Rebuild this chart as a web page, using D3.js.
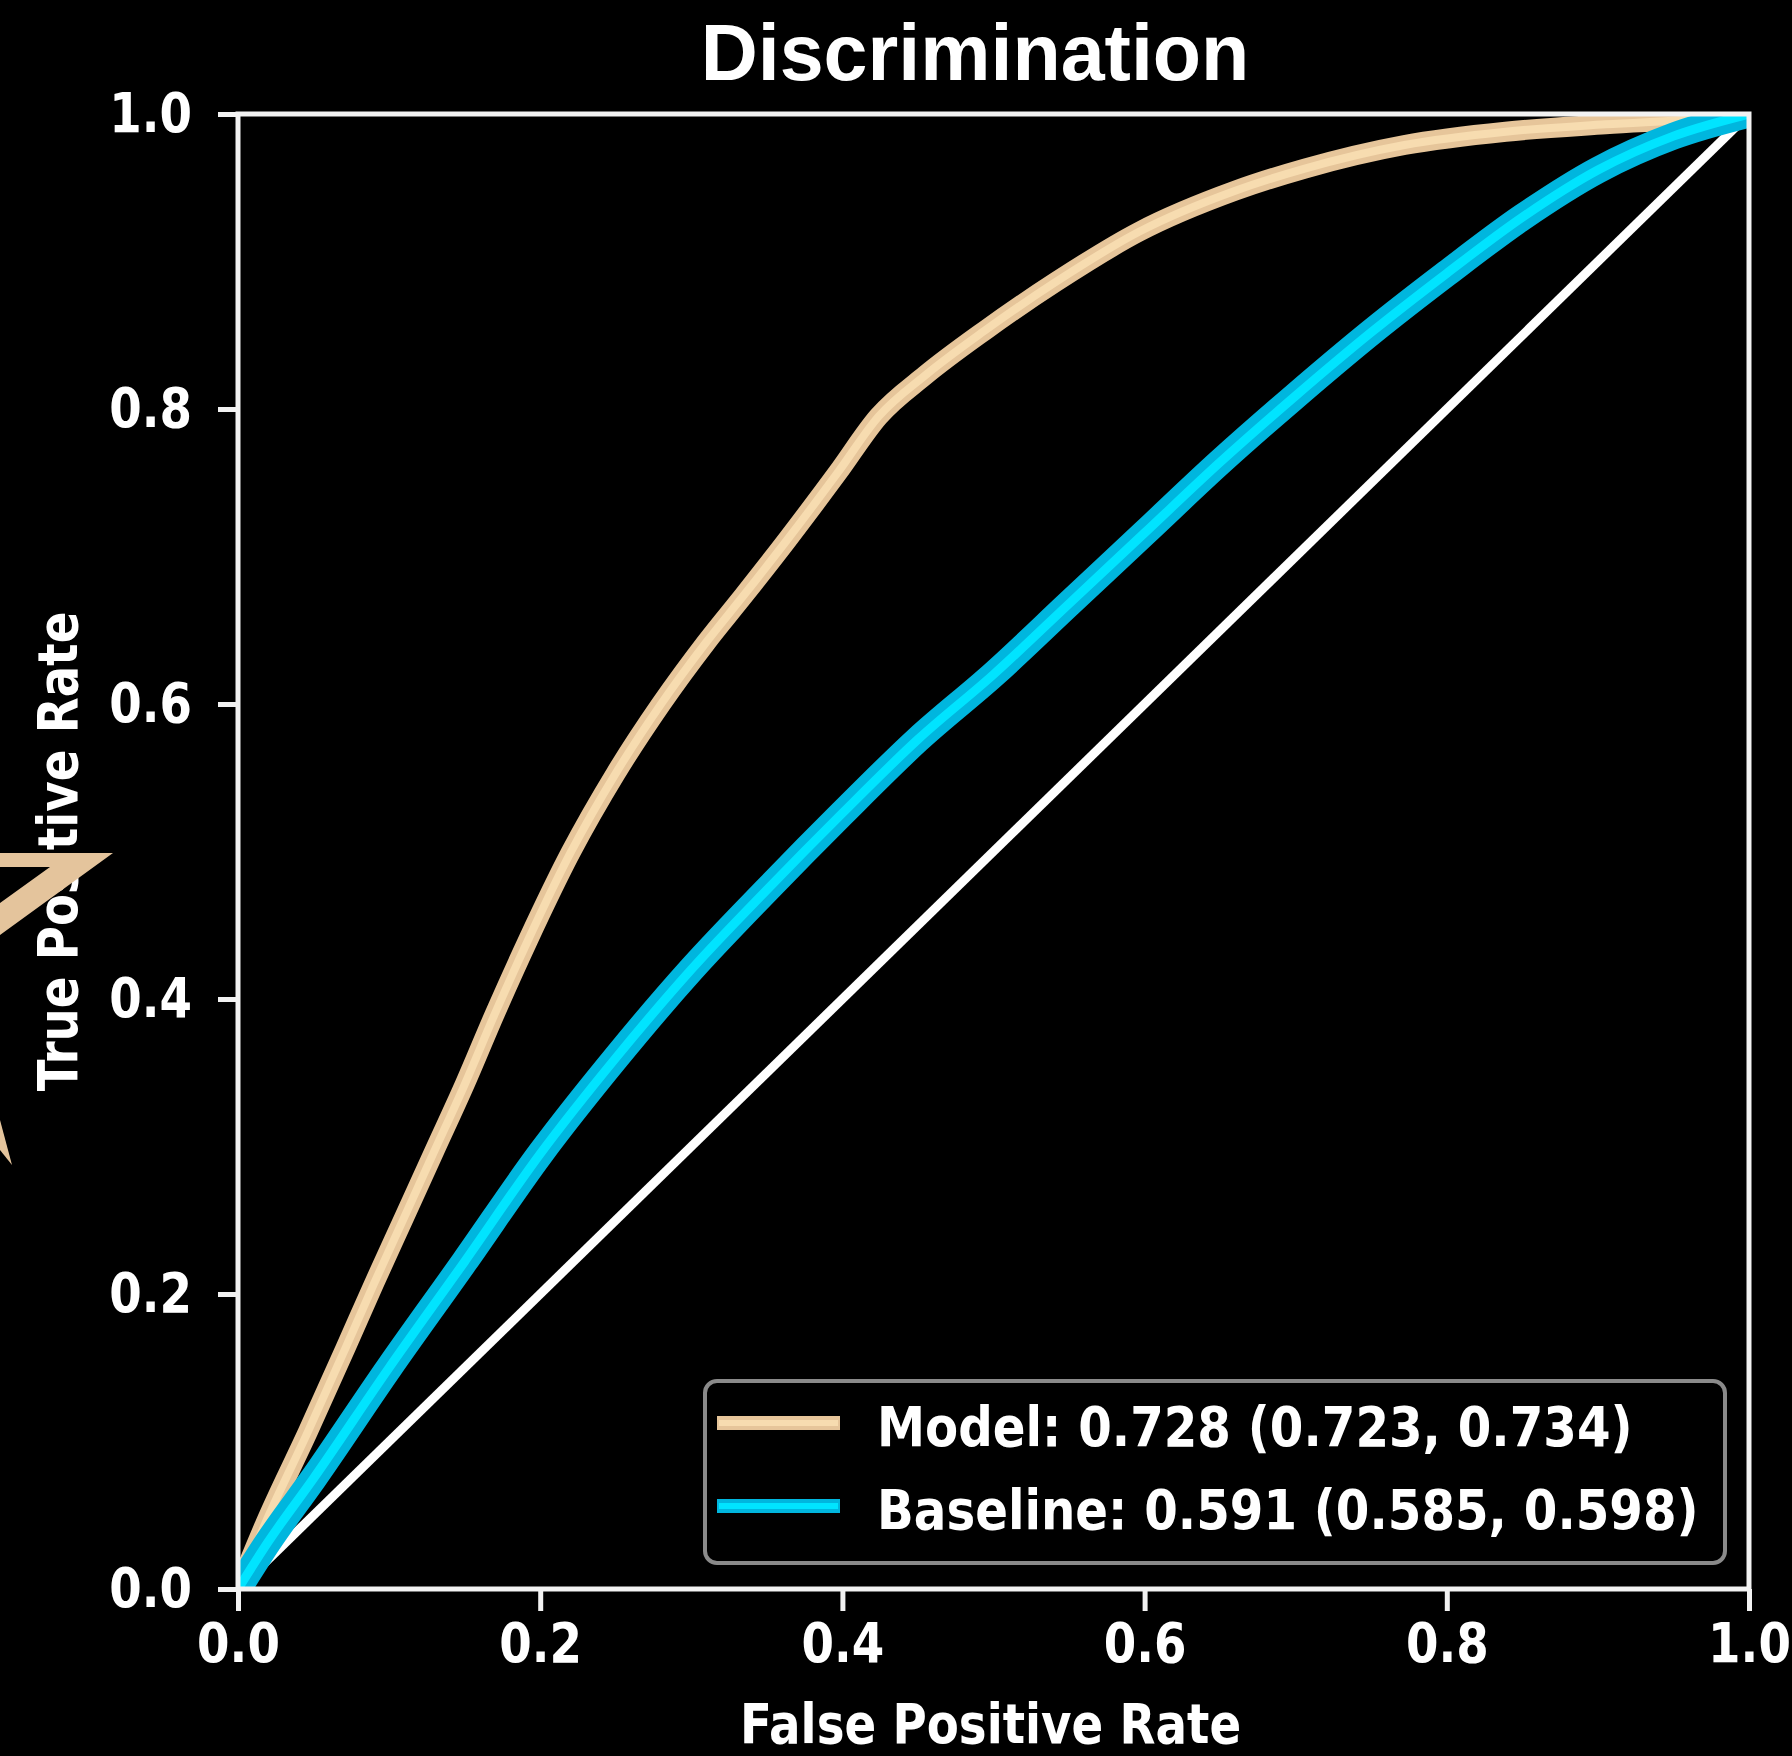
<!DOCTYPE html>
<html>
<head>
<meta charset="utf-8">
<script src="https://cdn.jsdelivr.net/npm/d3@7"></script>
<style>
  body { margin: 0; background: #000; }
  svg { display: block; }
</style>
</head>
<body>
<script>
// ---- DATA ----
var modelFpr = [0, 0.020, 0.046, 0.071, 0.090, 0.110, 0.130, 0.150, 0.170, 0.192, 0.220, 0.250, 0.280, 0.310, 0.335, 0.364, 0.397, 0.424, 0.455, 0.494, 0.541, 0.596, 0.660, 0.706, 0.772, 0.839, 0.905, 0.971, 1.0];
var modelTpr = [0, 0.049, 0.106, 0.163, 0.207, 0.252, 0.297, 0.342, 0.390, 0.440, 0.499, 0.553, 0.600, 0.642, 0.674, 0.712, 0.757, 0.795, 0.823, 0.853, 0.886, 0.920, 0.948, 0.963, 0.979, 0.988, 0.993, 0.997, 1.0];
var baseFpr = [0, 0.020, 0.050, 0.100, 0.150, 0.200, 0.250, 0.300, 0.350, 0.400, 0.450, 0.500, 0.550, 0.600, 0.650, 0.700, 0.750, 0.800, 0.850, 0.900, 0.950, 1.0];
var baseTpr = [0, 0.032, 0.075, 0.150, 0.222, 0.295, 0.360, 0.420, 0.474, 0.526, 0.576, 0.620, 0.668, 0.716, 0.764, 0.809, 0.852, 0.892, 0.930, 0.962, 0.985, 1.0];
var chanceLine = [0, 1];
var xTicks = [0, 0.2, 0.4, 0.6, 0.8, 1.0];
var yTicks = [0, 0.2, 0.4, 0.6, 0.8, 1.0];
var legendLabels = ["Model: 0.728 (0.723, 0.734)", "Baseline: 0.591 (0.585, 0.598)"];
var titleText = "Discrimination";
var xLabel = "False Positive Rate";
var yLabel = "True Positive Rate";

//SETTING UP THE CANVAS
var W = 1792, H = 1756;
var margin = {left: 238, top: 114, right: 43, bottom: 167};
var pw = W - margin.left - margin.right;
var ph = H - margin.top - margin.bottom;
var mplFont = "'DejaVu Sans', sans-serif";
var fs = 55;          // matplotlib text size
var squeeze = 0.85;   // the picture's text is a bit narrow

var peach = "#e6c59a", peachLight = "#f7dcb0";
var cyan = "#00b6de", cyanLight = "#00e4ff";

var svg = d3.select("body").append("svg")
  .attr("width", W)
  .attr("height", H)
  .style("background-color", "black");

var x = d3.scaleLinear().domain([0, 1]).range([margin.left, margin.left + pw]);
var y = d3.scaleLinear().domain([0, 1]).range([margin.top + ph, margin.top]);

function squish(k) {
  return function(sel) {
    sel.each(function() {
      var n = this.getComputedTextLength();
      d3.select(this).attr("textLength", n * k).attr("lengthAdjust", "spacingAndGlyphs");
    });
  };
}

//TITLE
svg.append("text")
  .attr("x", 975)
  .attr("y", 80)
  .attr("text-anchor", "middle")
  .attr("fill", "white")
  .style("font-family", "Helvetica, Arial, 'Liberation Sans', sans-serif")
  .style("font-weight", "bold")
  .style("font-size", "79px")
  .text(titleText);

//CURVES
svg.append("clipPath").attr("id", "plotclip")
  .append("rect")
  .attr("x", margin.left).attr("y", margin.top)
  .attr("width", pw).attr("height", ph);

var plot = svg.append("g").attr("clip-path", "url(#plotclip)");

var line = d3.line()
  .x(function(d) { return x(d[0]); })
  .y(function(d) { return y(d[1]); })
  .curve(d3.curveMonotoneX);

var chance = chanceLine.map(function(v) { return [v, v]; });
var model = modelFpr.map(function(f, i) { return [f, modelTpr[i]]; });
var base = baseFpr.map(function(f, i) { return [f, baseTpr[i]]; });

plot.append("path").datum(chance)
  .attr("d", line).attr("fill", "none")
  .attr("stroke", "white").attr("stroke-width", 9);

plot.append("path").datum(model)
  .attr("d", line).attr("fill", "none")
  .attr("stroke", peach).attr("stroke-width", 20).attr("stroke-linejoin", "round");
plot.append("path").datum(model)
  .attr("d", line).attr("fill", "none")
  .attr("stroke", peachLight).attr("stroke-width", 8).attr("stroke-linejoin", "round");

plot.append("path").datum(base)
  .attr("d", line).attr("fill", "none")
  .attr("stroke", cyan).attr("stroke-width", 27).attr("stroke-linejoin", "round");
plot.append("path").datum(base)
  .attr("d", line).attr("fill", "none")
  .attr("stroke", cyanLight).attr("stroke-width", 9).attr("stroke-linejoin", "round");

//AXES
var xAxis = d3.axisBottom(x).tickValues(xTicks).tickFormat(d3.format(".1f"))
  .tickSize(22).tickPadding(12);
var yAxis = d3.axisLeft(y).tickValues(yTicks).tickFormat(d3.format(".1f"))
  .tickSize(20).tickPadding(26);

var gx = svg.append("g").attr("transform", "translate(0," + (margin.top + ph) + ")").call(xAxis);
var gy = svg.append("g").attr("transform", "translate(" + margin.left + ",0)").call(yAxis);

[gx, gy].forEach(function(g) {
  g.select(".domain").remove();
  g.selectAll(".tick line").attr("stroke", "#f2f2f2").attr("stroke-width", 5);
  g.selectAll(".tick text")
    .attr("fill", "white")
    .style("font-family", mplFont)
    .style("font-weight", "bold")
    .style("font-size", fs + "px")
    .call(squish(squeeze));
});

//FRAME
svg.append("rect")
  .attr("x", margin.left).attr("y", margin.top)
  .attr("width", pw).attr("height", ph)
  .attr("fill", "none")
  .attr("stroke", "#f2f2f2")
  .attr("stroke-width", 5);

//AXIS LABELS
svg.append("text")
  .attr("x", margin.left + pw / 2 - 3)
  .attr("y", 1743)
  .attr("text-anchor", "middle")
  .attr("fill", "white")
  .style("font-family", mplFont).style("font-weight", "bold").style("font-size", fs + "px")
  .text(xLabel)
  .call(squish(squeeze));

svg.append("text")
  .attr("transform", "translate(77," + (margin.top + ph / 2) + ") rotate(-90)")
  .attr("text-anchor", "middle")
  .attr("fill", "white")
  .style("font-family", mplFont).style("font-weight", "bold").style("font-size", fs + "px")
  .text(yLabel)
  .call(squish(squeeze));

//LEGEND
var legW = 1020, legH = 182;
var legX = margin.left + pw - 24 - legW;
var legY = margin.top + ph - 26 - legH;
var leg = svg.append("g").attr("transform", "translate(" + legX + "," + legY + ")");
leg.append("rect")
  .attr("width", legW).attr("height", legH)
  .attr("rx", 12)
  .attr("fill", "black")
  .attr("stroke", "#8a8a8a")
  .attr("stroke-width", 4);

var legColors = [[peach, peachLight], [cyan, cyanLight]];
var row = leg.selectAll(".row")
  .data(legendLabels)
  .join("g")
  .attr("transform", function(d, i) { return "translate(0," + (42 + i * 83) + ")"; });

row.append("line")
  .attr("x1", 12).attr("x2", 135)
  .attr("stroke", function(d, i) { return legColors[i][0]; })
  .attr("stroke-width", 14);
row.append("line")
  .attr("x1", 14).attr("x2", 133)
  .attr("stroke", function(d, i) { return legColors[i][1]; })
  .attr("stroke-width", 6);

row.append("text")
  .attr("x", 172)
  .attr("y", 23)
  .attr("fill", "white")
  .style("font-family", mplFont).style("font-weight", "bold").style("font-size", fs + "px")
  .text(function(d) { return d; })
  .call(squish(0.878));

//DECORATION: piece of a star peeking in at the left edge
svg.append("path")
  .attr("d", "M0,853 L113,853 L0,935 L0,903 L50,867 L0,867 Z")
  .attr("fill", "#e4c49c");
svg.append("path")
  .attr("d", "M0,1120 L12,1165 L0,1150 Z")
  .attr("fill", "#e4c49c");
</script>
</body>
</html>
